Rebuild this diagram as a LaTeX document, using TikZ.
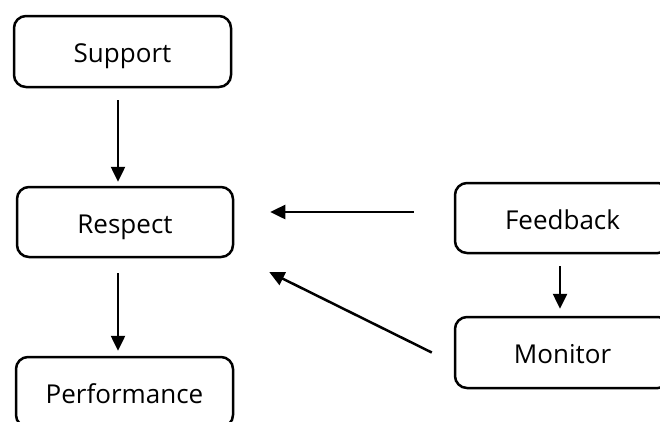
\documentclass[tikz,border=0pt]{standalone}
\usepackage{fontspec}
\setmainfont{Open Sans}
\usetikzlibrary{arrows.meta}
\begin{document}
\begin{tikzpicture}[x=1pt,y=-1pt,
  box/.style={draw, line width=2.5pt, rounded corners=12pt, minimum width=217pt, minimum height=71pt, inner sep=0pt, text height=22pt, text depth=0pt, font=\fontsize{26}{30}\selectfont},
  arr/.style={line width=2.5pt, -{Triangle[length=15pt,width=14pt]}}]
\useasboundingbox (0,0) rectangle (660,421);
\clip (0,0) rectangle (660,421);
\node[box] (support) at (122.5,51.5) {Support};
\node[box, minimum width=216pt, minimum height=70pt] (respect) at (125,222) {Respect};
\node[box, minimum height=70pt] (performance) at (124.5,392) {Performance};
\node[box, minimum width=215pt, minimum height=70pt] (feedback) at (562.5,218) {Feedback};
\node[box, minimum width=215pt] (monitor) at (562.5,352.5) {Monitor};
\draw[arr] ([xshift=-4.5pt,yshift=-12pt]support.south) -- ([xshift=-7pt,yshift=4pt]respect.north);
\draw[arr] ([xshift=-7pt,yshift=-15pt]respect.south) -- ([xshift=-6.5pt,yshift=5pt]performance.north);
\draw[arr] ([xshift=-40pt,yshift=6pt]feedback.west) -- ([xshift=36pt,yshift=10pt]respect.east);
\draw[arr] ([xshift=-2.5pt,yshift=-12pt]feedback.south) -- ([xshift=-2.5pt,yshift=7pt]monitor.north);
\draw[arr] ([xshift=-22pt]monitor.west) -- ([xshift=35pt,yshift=-50pt]respect.east);
\end{tikzpicture}
\end{document}
